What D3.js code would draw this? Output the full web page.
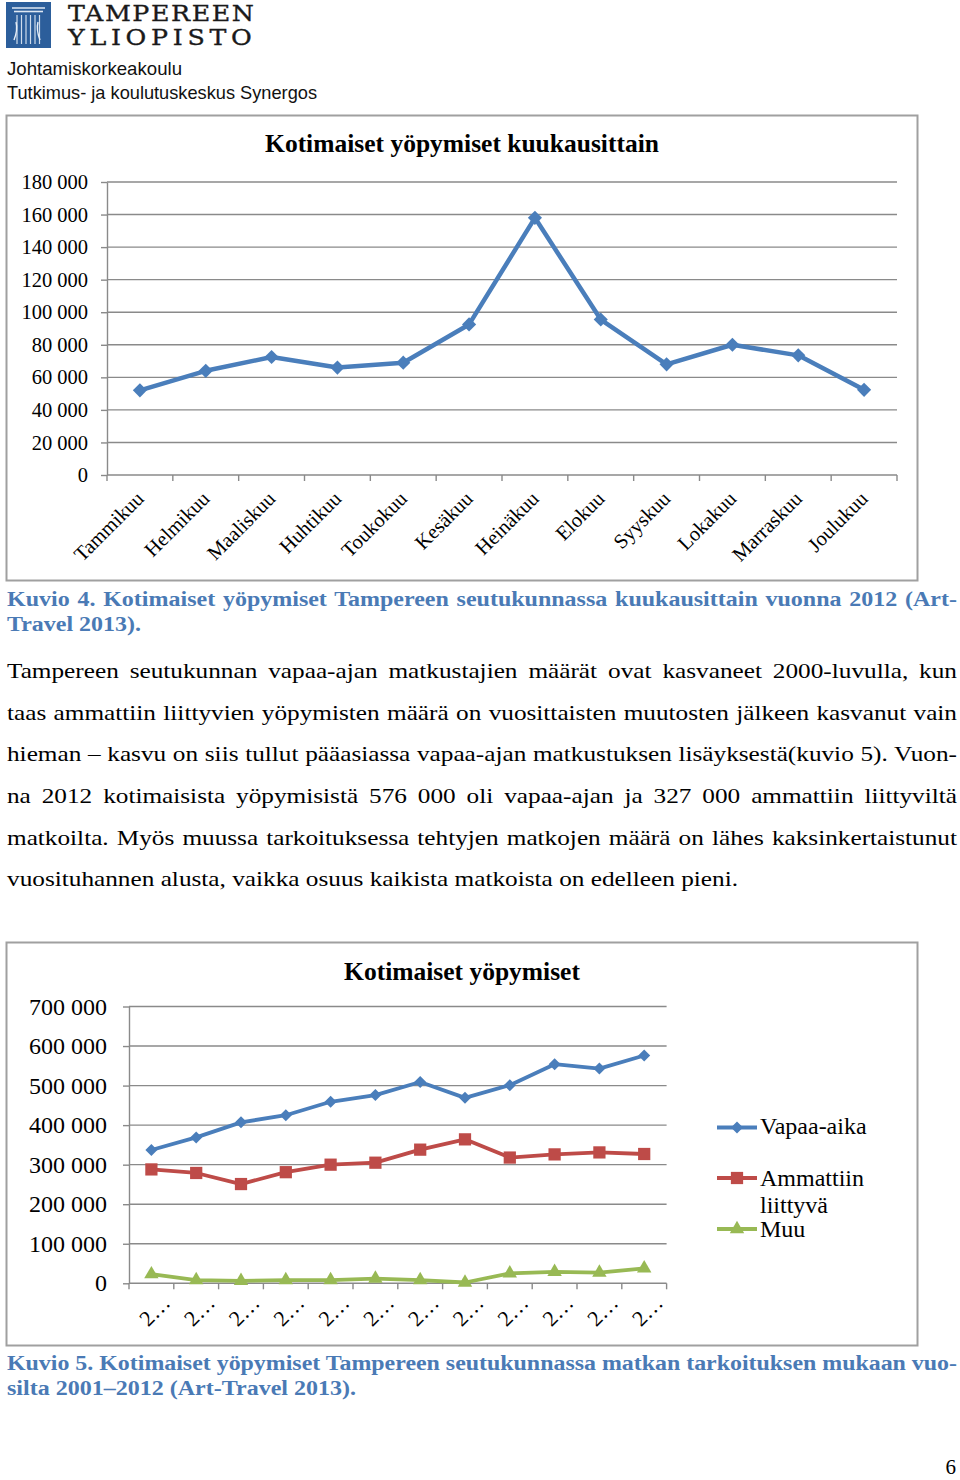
<!DOCTYPE html>
<html><head><meta charset="utf-8">
<script src="https://cdn.jsdelivr.net/npm/d3@7"></script>
<style>body{margin:0;background:#fff} svg{display:block}</style>
</head><body>
<svg id="page" width="960" height="1480"></svg>
<script>
// ---------- DATA ----------
const months = ["Tammikuu","Helmikuu","Maaliskuu","Huhtikuu","Toukokuu","Kesäkuu","Heinäkuu","Elokuu","Syyskuu","Lokakuu","Marraskuu","Joulukuu"];
const monthlyStays = [52000, 64000, 72500, 66000, 69000, 92500, 158000, 95500, 68000, 80000, 73500, 52300];
const yTicks1 = [0, 20000, 40000, 60000, 80000, 100000, 120000, 140000, 160000, 180000];

const years = ["2001","2002","2003","2004","2005","2006","2007","2008","2009","2010","2011","2012"];
const yearTickLabels = ["2…","2…","2…","2…","2…","2…","2…","2…","2…","2…","2…","2…"];
const leisure  = [337000, 369000, 407000, 425000, 459000, 476000, 509000, 469000, 501000, 554000, 543000, 576000];
const business = [288000, 279000, 251000, 281000, 300000, 305000, 338000, 364000, 318000, 326000, 331000, 327000];
const other    = [23000, 8000, 6000, 8000, 8000, 12000, 8000, 2000, 25000, 29000, 27000, 38000];
const yTicks2 = [0, 100000, 200000, 300000, 400000, 500000, 600000, 700000];

// ---------- SETUP ----------
const svg = d3.select("#page");
svg.append("rect").attr("width",960).attr("height",1480).attr("fill","#fff");
const loc = d3.formatLocale({decimal:",", thousands:" ", grouping:[3], currency:["","€"]});
const fmt = loc.format(",");
const SERIF = "'Liberation Serif', 'Times New Roman', serif";
const GRID = "#8a8a8a";
const BLUE = "#4a7ebb", RED = "#be4b48", GREEN = "#98b954";

function fitText(sel, width){
  sel.attr("textLength", width).attr("lengthAdjust", "spacingAndGlyphs");
}

// Paragraph laid out with a common horizontal condensing factor, then justified by word spacing
function paragraph(lines, opts){
  const g = svg.append("g");
  const texts = lines.map((ln, i) => g.append("text")
    .attr("x", 0).attr("y", opts.y0 + i*opts.lh)
    .attr("font-family", SERIF).attr("font-size", opts.size)
    .attr("font-weight", opts.weight || "normal").attr("fill", opts.color).text(ln[0]));
  const fx = opts.fx;
  g.attr("transform", `translate(${opts.x},0) scale(${fx},1)`);
  texts.forEach((t, i) => {
    const [txt, target, justify] = lines[i];
    const node = t.node();
    const w = node.getComputedTextLength();
    const need = target / fx;
    const spaces = (txt.match(/ /g) || []).length;
    if (justify && need > w && spaces > 0) t.attr("word-spacing", (need - w) / spaces);
    else t.attr("textLength", need).attr("lengthAdjust", "spacingAndGlyphs");
  });
  return g;
}
function naturalWidth(txt, size, weight, family){
  const t = svg.append("text").attr("font-family", family || SERIF).attr("font-size", size).attr("font-weight", weight).text(txt);
  const w = t.node().getComputedTextLength(); t.remove(); return w;
}

// ---------- HEADER ----------
const logo = svg.append("g");
logo.append("rect").attr("x",6).attr("y",2).attr("width",45).attr("height",46).attr("fill","#2c5e9b");
[[12,45,8],[14,43,11.5]].forEach(([a,b,y]) => logo.append("line").attr("x1",a).attr("x2",b).attr("y1",y).attr("y2",y).attr("stroke","#dfe8f3").attr("stroke-width",1.6));
[17,21.5,26,30.5,35,39.5].forEach(x => logo.append("line").attr("x1",x).attr("x2",x).attr("y1",15).attr("y2",44).attr("stroke","#cfdcec").attr("stroke-width",1.2));
logo.append("path").attr("d","M14,40 Q18,30 16,22 M40,40 Q36,30 38,22").attr("fill","none").attr("stroke","#e6eef7").attr("stroke-width",1.4);

const HSERIF = "'DejaVu Serif', serif";
const HS = 1.1, HSIZE = 23;
const uniName = [["TAMPEREEN", 21.5, 186], ["YLIOPISTO", 45.5, 184]];
const uni = svg.append("text").attr("font-family",HSERIF).attr("font-size",HSIZE).attr("fill","#1a1a1a")
  .attr("stroke","#1a1a1a").attr("stroke-width",0.35).attr("transform",`scale(${HS},1)`);
uniName.forEach(([s, y, T]) => {
  const w = naturalWidth(s, HSIZE, "normal", HSERIF);
  const ls = (T / HS - w) / (s.length - 1);
  uni.append("tspan").attr("x", 68 / HS).attr("y", y).attr("letter-spacing", ls).text(s);
});
fitText(svg.append("text").attr("x",7).attr("y",75).attr("font-family","'Liberation Sans', Arial, sans-serif").attr("font-size",18.5).attr("fill","#111").text("Johtamiskorkeakoulu"), 175);
fitText(svg.append("text").attr("x",7).attr("y",99).attr("font-family","'Liberation Sans', Arial, sans-serif").attr("font-size",18.5).attr("fill","#111").text("Tutkimus- ja koulutuskeskus Synergos"), 310);

// ---------- CHART 1 ----------
svg.append("rect").attr("x",6.5).attr("y",115.5).attr("width",911).attr("height",465).attr("fill","#fff").attr("stroke","#a0a0a0").attr("stroke-width",2);
svg.append("text").attr("x",462).attr("y",152).attr("text-anchor","middle").attr("font-family",SERIF).attr("font-weight","bold").attr("font-size",25.5).attr("fill","#000").text("Kotimaiset yöpymiset kuukausittain");

const x1 = d3.scaleBand().domain(months).range([107, 897]);
const y1 = d3.scaleLinear().domain([0, 180000]).range([475, 182]);
const c1 = svg.append("g");
c1.selectAll("line.grid").data(yTicks1).join("line").attr("class","grid")
  .attr("x1",107).attr("x2",897).attr("y1",d=>y1(d)).attr("y2",d=>y1(d))
  .attr("stroke",GRID).attr("stroke-width",1.4);
const ya1 = c1.append("g").attr("transform","translate(107,0)")
  .call(d3.axisLeft(y1).tickValues(yTicks1).tickSize(6).tickSizeOuter(0).tickPadding(13).tickFormat(fmt));
ya1.select(".domain").attr("stroke",GRID).attr("stroke-width",1.4);
ya1.selectAll(".tick line").attr("stroke",GRID).attr("stroke-width",1.4);
ya1.selectAll("text").attr("font-family",SERIF).attr("font-size",20.5).attr("fill","#000");
const bounds1 = months.map(m => x1(m)).concat([x1.range()[1]]);
c1.selectAll("line.xt").data(bounds1).join("line").attr("class","xt")
  .attr("x1",d=>d).attr("x2",d=>d).attr("y1",475).attr("y2",481).attr("stroke",GRID).attr("stroke-width",1.4);
const xa1 = c1.append("g").attr("transform","translate(0,475)").call(d3.axisBottom(x1).tickSize(0).tickFormat(d=>d));
xa1.select(".domain").remove();
xa1.selectAll("text").attr("font-family",SERIF).attr("font-size",20.5).attr("fill","#000")
  .attr("text-anchor","end").attr("x",0).attr("y",0).attr("dy",0).attr("transform","translate(5,25) rotate(-45)");

const bw1 = x1.bandwidth();
c1.append("path").datum(monthlyStays)
  .attr("d", d3.line().x((d,i)=>x1(months[i])+bw1/2).y(d=>y1(d)))
  .attr("fill","none").attr("stroke",BLUE).attr("stroke-width",4.5).attr("stroke-linejoin","round");
c1.selectAll("path.mk").data(monthlyStays).join("path").attr("class","mk")
  .attr("d", d3.symbol(d3.symbolSquare, 100))
  .attr("transform",(d,i)=>`translate(${x1(months[i])+bw1/2},${y1(d)}) rotate(45)`)
  .attr("fill",BLUE);

// ---------- CAPTIONS + BODY ----------
const CAP = "#4a7ab5";
const capLast = "silta 2001–2012 (Art-Travel 2013).";
const fxCap = 349 / naturalWidth(capLast, 20, "bold");
paragraph([
  ["Kuvio 4. Kotimaiset yöpymiset Tampereen seutukunnassa kuukausittain vuonna 2012 (Art-", 950, true],
  ["Travel 2013).", 134, false]
], {x:7, y0:606, lh:25, size:20, weight:"bold", color:CAP, fx:fxCap});

const bodyLines = [
  ["Tampereen seutukunnan vapaa-ajan matkustajien määrät ovat kasvaneet 2000-luvulla, kun", 950, true],
  ["taas ammattiin liittyvien yöpymisten määrä on vuosittaisten muutosten jälkeen kasvanut vain", 950, true],
  ["hieman – kasvu on siis tullut pääasiassa vapaa-ajan matkustuksen lisäyksestä(kuvio 5). Vuon-", 950, true],
  ["na 2012 kotimaisista yöpymisistä 576 000 oli vapaa-ajan ja 327 000 ammattiin liittyviltä", 950, true],
  ["matkoilta. Myös muussa tarkoituksessa tehtyjen matkojen määrä on lähes kaksinkertaistunut", 950, true],
  ["vuosituhannen alusta, vaikka osuus kaikista matkoista on edelleen pieni.", 731, false]
];
const fxBody = 731 / naturalWidth(bodyLines[5][0], 22, "normal");
paragraph(bodyLines, {x:7, y0:678, lh:41.7, size:22, color:"#000", fx:fxBody});

// ---------- CHART 2 ----------
svg.append("rect").attr("x",6.5).attr("y",942.5).attr("width",911).attr("height",403).attr("fill","#fff").attr("stroke","#a0a0a0").attr("stroke-width",2);
svg.append("text").attr("x",462).attr("y",980).attr("text-anchor","middle").attr("font-family",SERIF).attr("font-weight","bold").attr("font-size",25.5).attr("fill","#000").text("Kotimaiset yöpymiset");

const x2 = d3.scaleBand().domain(years).range([129, 666.6]);
const y2 = d3.scaleLinear().domain([0, 700000]).range([1283.3, 1006.5]);
const c2 = svg.append("g");
c2.selectAll("line.grid").data(yTicks2).join("line").attr("class","grid")
  .attr("x1",129).attr("x2",666.6).attr("y1",d=>y2(d)).attr("y2",d=>y2(d))
  .attr("stroke",GRID).attr("stroke-width",1.4);
const ya2 = c2.append("g").attr("transform","translate(129,0)")
  .call(d3.axisLeft(y2).tickValues(yTicks2).tickSize(6).tickSizeOuter(0).tickPadding(16).tickFormat(fmt));
ya2.select(".domain").attr("stroke",GRID).attr("stroke-width",1.4);
ya2.selectAll(".tick line").attr("stroke",GRID).attr("stroke-width",1.4);
ya2.selectAll("text").attr("font-family",SERIF).attr("font-size",24).attr("fill","#000");
const bounds2 = years.map(y => x2(y)).concat([x2.range()[1]]);
c2.selectAll("line.xt").data(bounds2).join("line").attr("class","xt")
  .attr("x1",d=>d).attr("x2",d=>d).attr("y1",1283.3).attr("y2",1289.3).attr("stroke",GRID).attr("stroke-width",1.4);
const xa2 = c2.append("g").attr("transform","translate(0,1283.3)").call(d3.axisBottom(x2).tickSize(0).tickFormat((d,i)=>yearTickLabels[i]));
xa2.select(".domain").remove();
xa2.selectAll("text").attr("font-family",SERIF).attr("font-size",22).attr("fill","#000")
  .attr("text-anchor","middle").attr("x",0).attr("y",0).attr("dy","0.35em").attr("transform","translate(3,27) rotate(-45)");

const bw2 = x2.bandwidth();
const cx2 = i => x2(years[i]) + bw2/2;
const series = [
  {vals: leisure,  color: BLUE,  sym: d3.symbolSquare,   size: 72,  rot: 45},
  {vals: business, color: RED,   sym: d3.symbolSquare,   size: 150, rot: 0},
  {vals: other,    color: GREEN, sym: d3.symbolTriangle, size: 90,  rot: 0}
];
series.forEach(s => {
  c2.append("path").datum(s.vals)
    .attr("d", d3.line().x((d,i)=>cx2(i)).y(d=>y2(d)))
    .attr("fill","none").attr("stroke",s.color).attr("stroke-width",3.8).attr("stroke-linejoin","round");
  c2.selectAll(null).data(s.vals).join("path")
    .attr("d", d3.symbol(s.sym, s.size))
    .attr("transform",(d,i)=>`translate(${cx2(i)},${y2(d)}) rotate(${s.rot})`)
    .attr("fill",s.color);
});

// legend
const legY = [1127.5, 1178, 1229];
const legBase = [[1134], [1185.5, 1213], [1236.5]];
const legLines = [["Vapaa-aika"], ["Ammattiin", "liittyvä"], ["Muu"]];
series.forEach((s, k) => {
  const g = svg.append("g");
  g.append("line").attr("x1",717).attr("x2",757).attr("y1",legY[k]).attr("y2",legY[k]).attr("stroke",s.color).attr("stroke-width",3.8);
  g.append("path").attr("d", d3.symbol(s.sym, s.size)).attr("transform",`translate(737,${legY[k]}) rotate(${s.rot})`).attr("fill",s.color);
  legLines[k].forEach((ln, j) => g.append("text").attr("x",760).attr("y",legBase[k][j]).attr("font-family",SERIF).attr("font-size",24).attr("fill","#000").text(ln));
});

// ---------- CAPTION 2 + PAGE ----------
paragraph([
  ["Kuvio 5. Kotimaiset yöpymiset Tampereen seutukunnassa matkan tarkoituksen mukaan vuo-", 950, true],
  [capLast, 349, false]
], {x:7, y0:1370, lh:25, size:20, weight:"bold", color:CAP, fx:fxCap});

svg.append("text").attr("x",956).attr("y",1474).attr("text-anchor","end").attr("font-family",SERIF).attr("font-size",21).attr("fill","#000").text("6");
</script></body></html>
